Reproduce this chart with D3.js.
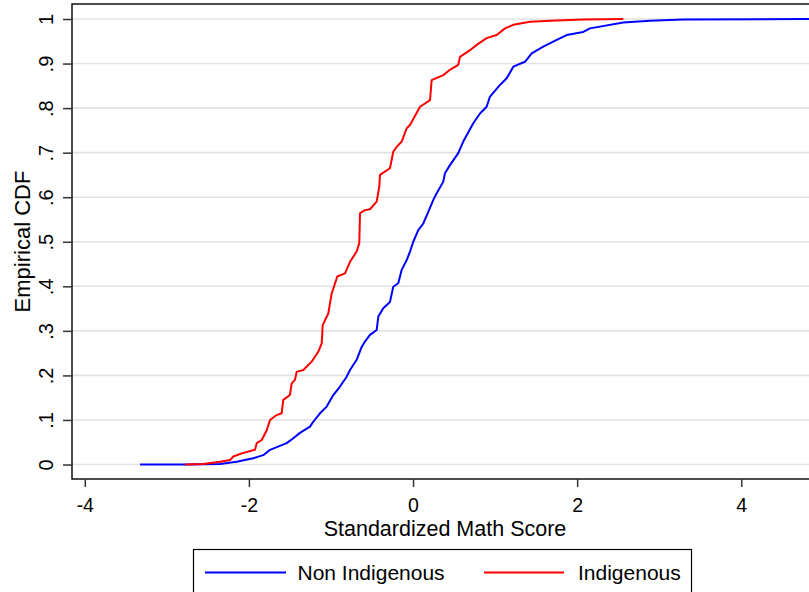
<!DOCTYPE html>
<html>
<head>
<meta charset="utf-8">
<script src="https://cdn.jsdelivr.net/npm/d3@7"></script>
<style>
  html, body { margin: 0; padding: 0; background: #fff; }
  svg { display: block; font-family: "Liberation Sans", Arial, sans-serif; }
</style>
</head>
<body>
<svg id="chart" width="809" height="592"></svg>
<script>
// ---- Data ----
const seriesNames = ["Non Indigenous", "Indigenous"];
const seriesColors = ["#0000ff", "#ff0000"];

const nonIndX = [-3.326, -2.758, -2.353, -2.149, -1.947, -1.825, -1.743, -1.540, -1.459, -1.378,
  -1.256, -1.216, -1.134, -1.052, -0.972, -0.890, -0.809, -0.768, -0.687, -0.626,
  -0.586, -0.525, -0.443, -0.423, -0.363, -0.281, -0.241, -0.180, -0.138, -0.077,
  -0.037, 0.003, 0.064, 0.125, 0.186, 0.247, 0.288, 0.369, 0.389, 0.450,
  0.551, 0.612, 0.734, 0.816, 0.897, 0.938, 1.060, 1.141, 1.222, 1.364,
  1.446, 1.587, 1.751, 1.872, 2.075, 2.156, 2.562, 2.888, 3.293, 4.776, 5.0];
const nonIndY = [0, 0, 0.001, 0.006, 0.014, 0.021, 0.033, 0.048, 0.059, 0.071,
  0.085, 0.096, 0.115, 0.130, 0.156, 0.175, 0.197, 0.212, 0.235, 0.264,
  0.276, 0.291, 0.302, 0.332, 0.351, 0.365, 0.399, 0.407, 0.437, 0.459,
  0.478, 0.500, 0.526, 0.541, 0.567, 0.594, 0.609, 0.635, 0.654, 0.672,
  0.699, 0.725, 0.766, 0.788, 0.803, 0.826, 0.852, 0.867, 0.893, 0.904,
  0.923, 0.938, 0.953, 0.964, 0.971, 0.979, 0.992, 0.996, 0.999, 1.0, 1.0];

const indX = [-2.779, -2.556, -2.353, -2.231, -2.190, -2.088, -1.926, -1.905, -1.844, -1.783,
  -1.743, -1.662, -1.601, -1.581, -1.500, -1.479, -1.439, -1.418, -1.337, -1.235,
  -1.155, -1.113, -1.101, -1.033, -0.991, -0.923, -0.829, -0.768, -0.687, -0.655,
  -0.646, -0.586, -0.525, -0.443, -0.411, -0.403, -0.281, -0.241, -0.199, -0.138,
  -0.077, -0.037, 0.085, 0.207, 0.227, 0.369, 0.450, 0.551, 0.572, 0.694,
  0.776, 0.897, 1.019, 1.121, 1.222, 1.425, 1.669, 2.075, 2.562];
const indY = [0, 0.001, 0.006, 0.010, 0.018, 0.025, 0.033, 0.048, 0.055, 0.077,
  0.100, 0.111, 0.115, 0.145, 0.156, 0.182, 0.190, 0.208, 0.212, 0.231,
  0.253, 0.272, 0.313, 0.339, 0.384, 0.422, 0.429, 0.455, 0.478, 0.497,
  0.564, 0.571, 0.573, 0.590, 0.624, 0.650, 0.665, 0.702, 0.713, 0.725,
  0.755, 0.762, 0.803, 0.818, 0.863, 0.874, 0.886, 0.897, 0.915, 0.930,
  0.942, 0.957, 0.964, 0.979, 0.987, 0.994, 0.996, 0.999, 1.0];

const xTicks = [-4, -2, 0, 2, 4];
const xTickLabels = ["-4", "-2", "0", "2", "4"];
const yTicks = [0, 0.1, 0.2, 0.3, 0.4, 0.5, 0.6, 0.7, 0.8, 0.9, 1];
const yTickLabels = ["0", ".1", ".2", ".3", ".4", ".5", ".6", ".7", ".8", ".9", "1"];
const xTitle = "Standardized Math Score";
const yTitle = "Empirical CDF";

// ---- Layout ----
const svg = d3.select("#chart");
const L = 72, T = 4, R = 812, B = 479;

const x = d3.scaleLinear().domain([-4.156, 4.862]).range([L, R]);
const y = d3.scaleLinear().domain([-0.0325, 1.0337]).range([B, T]);

svg.append("rect").attr("width", 809).attr("height", 592).attr("fill", "#fff");

// gridlines
svg.append("g").selectAll("line").data(yTicks).join("line")
  .attr("x1", L).attr("x2", R)
  .attr("y1", d => y(d)).attr("y2", d => y(d))
  .attr("stroke", "#e2e2e2").attr("stroke-width", 1.6);

// series
svg.append("clipPath").attr("id", "clip")
  .append("rect").attr("x", L).attr("y", T).attr("width", R - L).attr("height", B - T);

const series = [
  { name: seriesNames[0], color: seriesColors[0], pts: nonIndX.map((v, i) => [v, nonIndY[i]]) },
  { name: seriesNames[1], color: seriesColors[1], pts: indX.map((v, i) => [v, indY[i]]) }
];
const line = d3.line().x(d => x(d[0])).y(d => y(d[1]));
svg.append("g").attr("clip-path", "url(#clip)")
  .selectAll("path").data(series).join("path")
  .attr("d", d => line(d.pts))
  .attr("fill", "none")
  .attr("stroke", d => d.color)
  .attr("stroke-width", 2)
  .attr("stroke-linejoin", "round");

// frame
svg.append("rect").attr("x", L).attr("y", T).attr("width", R - L).attr("height", B - T)
  .attr("fill", "none").attr("stroke", "#000").attr("stroke-width", 1.4);

// x axis
const xAxis = svg.append("g").attr("transform", `translate(0,${B})`)
  .call(d3.axisBottom(x).tickValues(xTicks).tickSize(8).tickFormat((d, i) => xTickLabels[i]));
xAxis.select(".domain").remove();
xAxis.selectAll(".tick line").attr("stroke", "#333").attr("stroke-width", 1.5);
xAxis.selectAll(".tick text").attr("y", 0).attr("dy", null)
  .attr("transform", "translate(0,32.5)")
  .attr("font-size", 19.5).attr("fill", "#000")
  .attr("font-family", "'Liberation Sans', Arial, sans-serif");

// y axis
const yAxis = svg.append("g").attr("transform", `translate(${L},0)`)
  .call(d3.axisLeft(y).tickValues(yTicks).tickSize(9).tickFormat((d, i) => yTickLabels[i]));
yAxis.select(".domain").remove();
yAxis.selectAll(".tick line").attr("stroke", "#333").attr("stroke-width", 1.5);
yAxis.selectAll(".tick text")
  .attr("x", null).attr("dy", null)
  .attr("text-anchor", "middle")
  .attr("transform", "translate(-19.5,0) rotate(-90)")
  .attr("font-size", 20).attr("fill", "#000")
  .attr("font-family", "'Liberation Sans', Arial, sans-serif");

// titles
svg.append("text").attr("x", 445).attr("y", 535.5)
  .attr("text-anchor", "middle").attr("font-size", 21.5).attr("fill", "#000")
  .text(xTitle);
svg.append("text")
  .attr("transform", `translate(29.5,${(T + B) / 2}) rotate(-90)`)
  .attr("text-anchor", "middle").attr("font-size", 22).attr("fill", "#000")
  .text(yTitle);

// legend
const lg = svg.append("g");
lg.append("rect").attr("x", 193.5).attr("y", 549.5).attr("width", 498).attr("height", 60)
  .attr("fill", "#fff").attr("stroke", "#000").attr("stroke-width", 1.2);
const legendPos = [{ x1: 205, x2: 286, tx: 297.5 }, { x1: 484, x2: 564, tx: 578 }];
series.forEach((s, i) => {
  const p = legendPos[i];
  lg.append("line").attr("x1", p.x1).attr("x2", p.x2).attr("y1", 572.5).attr("y2", 572.5)
    .attr("stroke", s.color).attr("stroke-width", 1.8);
  lg.append("text").attr("x", p.tx).attr("y", 580).attr("font-size", 21).attr("fill", "#000")
    .text(s.name);
});
</script>
</body>
</html>
